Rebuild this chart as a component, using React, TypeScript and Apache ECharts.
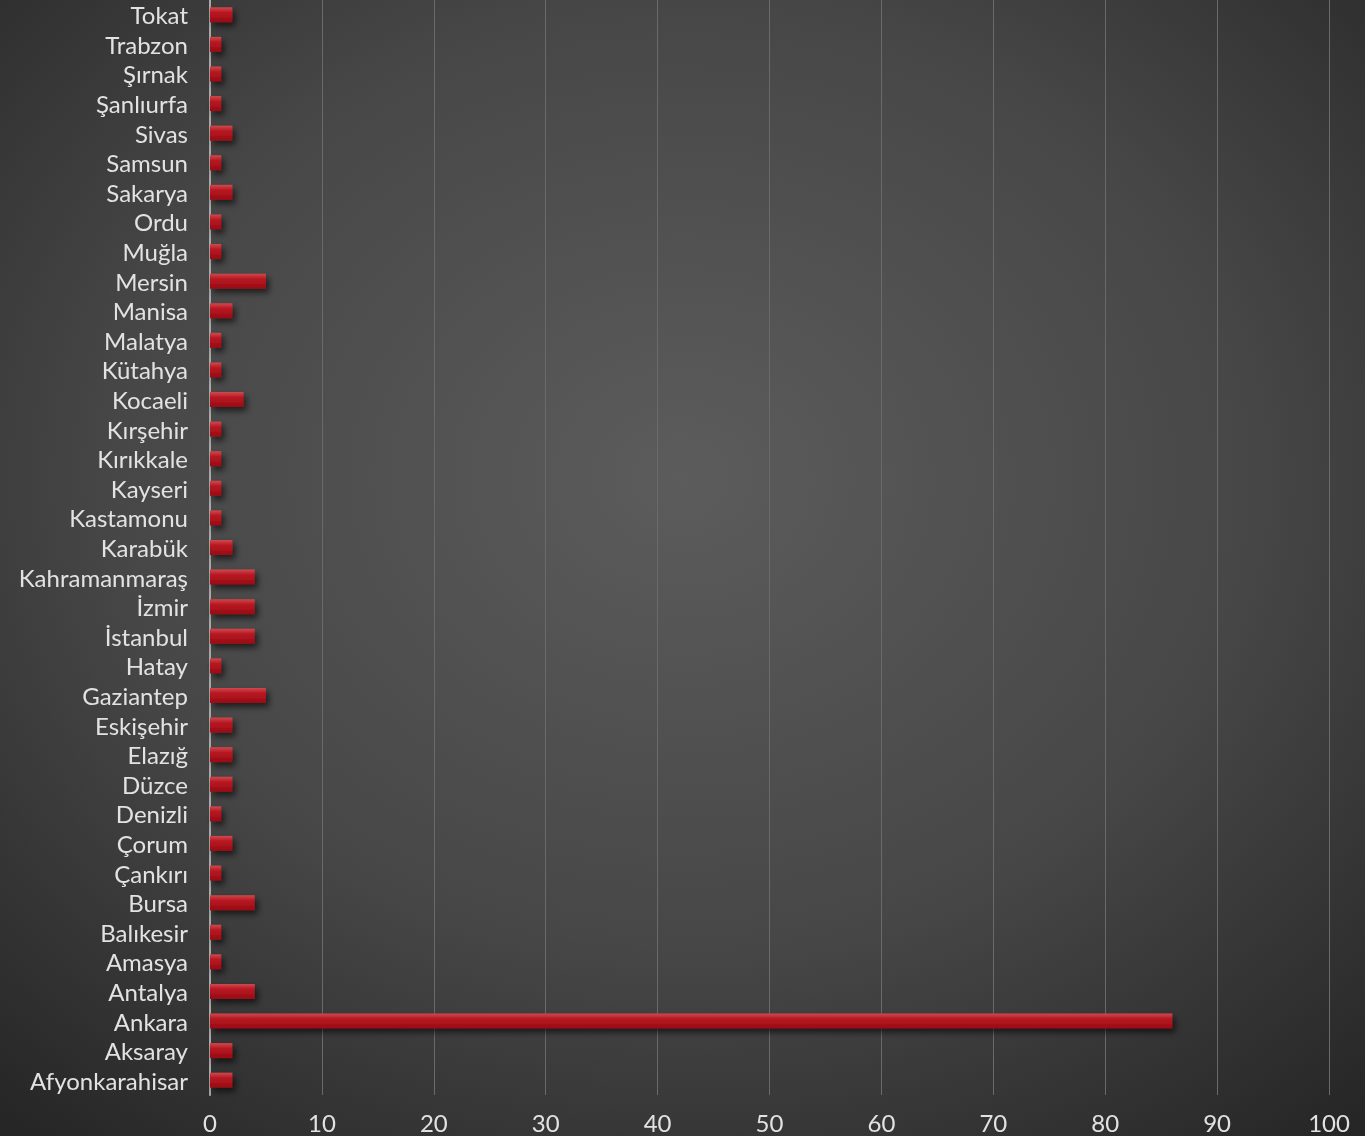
import React, { useEffect, useRef } from "react";
import * as echarts from "echarts";

const categories = [
  "Afyonkarahisar", "Aksaray", "Ankara", "Antalya", "Amasya", "Balıkesir", "Bursa", "Çankırı",
  "Çorum", "Denizli", "Düzce", "Elazığ", "Eskişehir", "Gaziantep", "Hatay", "İstanbul", "İzmir",
  "Kahramanmaraş", "Karabük", "Kastamonu", "Kayseri", "Kırıkkale", "Kırşehir", "Kocaeli", "Kütahya",
  "Malatya", "Manisa", "Mersin", "Muğla", "Ordu", "Sakarya", "Samsun", "Sivas", "Şanlıurfa",
  "Şırnak", "Trabzon", "Tokat",
];
const values = [
  2, 2, 86, 4, 1, 1, 4, 1,
  2, 1, 2, 2, 2, 5, 1, 4, 4,
  4, 2, 1, 1, 1, 1, 3, 1,
  1, 2, 5, 1, 1, 2, 1, 2, 1,
  1, 1, 2,
];
const xTicks = { min: 0, max: 100, interval: 10 };

export default function App() {
  const ref = useRef<HTMLDivElement>(null);
  useEffect(() => {
    const chart = echarts.init(ref.current!, null, { renderer: "svg" });
    chart.setOption({
      animation: false,
      backgroundColor: {
        type: "radial",
        x: 0.5,
        y: 0.42,
        r: 0.75,
        colorStops: [
          { offset: 0, color: "#5c5c5c" },
          { offset: 0.55, color: "#474747" },
          { offset: 1, color: "#262626" },
        ],
      },
      textStyle: { fontFamily: "Lato, 'Noto Sans', sans-serif" },
      grid: { left: 210, right: 36, top: 0, bottom: 41, containLabel: false },
      xAxis: {
        type: "value",
        min: xTicks.min,
        max: xTicks.max,
        interval: xTicks.interval,
        axisLine: { show: false },
        axisTick: { show: false },
        axisLabel: { color: "#e2e2e2", fontSize: 24, margin: 15 },
        splitLine: { show: true, lineStyle: { color: "#6a6a6a", width: 1 } },
      },
      yAxis: {
        type: "category",
        data: categories,
        axisLine: { show: true, lineStyle: { color: "#a8a8a8", width: 2 } },
        axisTick: { show: false },
        axisLabel: { color: "#e2e2e2", fontSize: 24, margin: 22, interval: 0, lineHeight: 26 },
        splitLine: { show: false },
      },
      series: [
        {
          type: "bar",
          data: values,
          barWidth: 15,
          itemStyle: {
            color: {
              type: "linear",
              x: 0, y: 0, x2: 0, y2: 1,
              colorStops: [
                { offset: 0, color: "#cf4a4e" },
                { offset: 0.35, color: "#b81822" },
                { offset: 1, color: "#980c14" },
              ],
            },
            shadowColor: "rgba(0,0,0,0.6)",
            shadowBlur: 6,
            shadowOffsetX: 3,
            shadowOffsetY: 4,
          },
        },
      ],
    });
    return () => chart.dispose();
  }, []);
  return (
    <div
      ref={ref}
      style={{ position: "fixed", left: 0, top: 0, width: 1365, height: 1136 }}
    />
  );
}
